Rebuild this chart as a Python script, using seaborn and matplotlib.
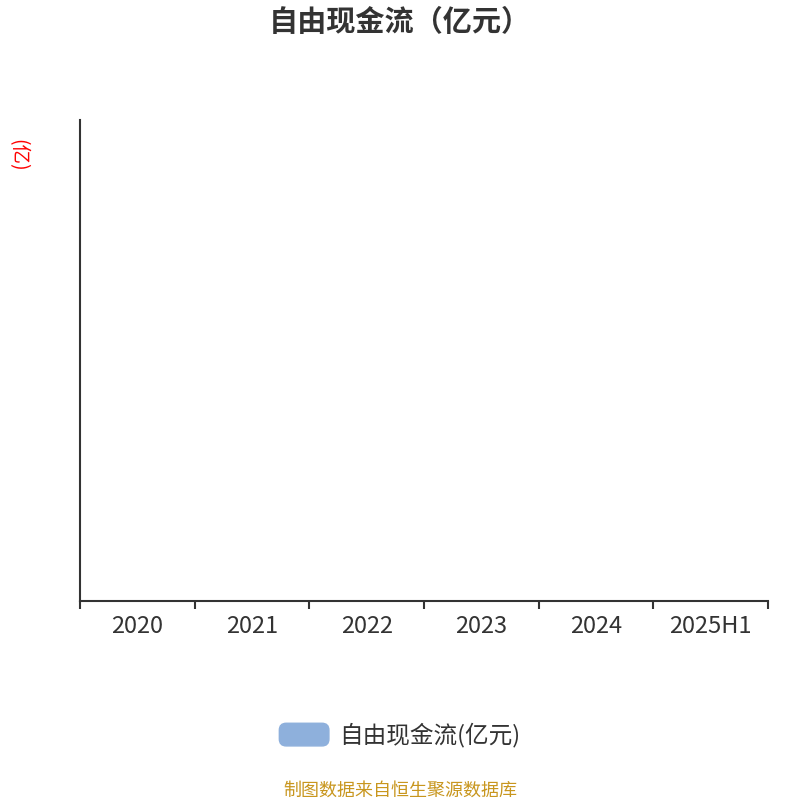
import numpy as np
import pandas as pd
import matplotlib
matplotlib.use("Agg")
import matplotlib.pyplot as plt
import seaborn as sns
from matplotlib.patches import Patch, FancyBboxPatch
from matplotlib.legend_handler import HandlerPatch

# data: the source chart shows no values for any period
periods = ["2020", "2021", "2022", "2023", "2024", "2025H1"]
fcf_values = [np.nan, np.nan, np.nan, np.nan, np.nan, np.nan]
series_name = "自由现金流(亿元)"

df = pd.DataFrame({"period": periods, "value": fcf_values})

sns.set_theme(style="white")
plt.rcParams["font.family"] = ["Noto Sans CJK SC", "DejaVu Sans"]

bar_color = "#8eb0dc"
text_color = "#333333"

fig = plt.figure(figsize=(8, 8), dpi=100)
ax = fig.add_axes([0.1, 0.24875, 0.86, 0.60125])

sns.barplot(data=df, x="period", y="value", order=periods,
            color=bar_color, ax=ax, errorbar=None)

ax.set_xlim(-0.5, len(periods) - 0.5)
ax.set_ylim(0, 1)

# labels centred, tick marks on category boundaries
ax.set_xticks(range(len(periods)))
ax.set_xticklabels(periods, fontsize=17, color=text_color)
ax.set_xticks(np.arange(-0.5, len(periods)), minor=True)
ax.tick_params(axis="x", which="major", length=0, pad=10)
ax.tick_params(axis="x", which="minor", length=6, width=1.5,
               color=text_color, direction="out", bottom=True)
ax.set_yticks([])
ax.set_xlabel("")
ax.set_ylabel("")

for side in ["top", "right"]:
    ax.spines[side].set_visible(False)
for side in ["left", "bottom"]:
    ax.spines[side].set_color(text_color)
    ax.spines[side].set_linewidth(1.5)

fig.text(0.5, 0.972, "自由现金流（亿元）", ha="center", va="center",
         fontsize=21, fontweight="bold", color=text_color)
fig.text(0.022, 0.806, "(亿)", ha="center", va="center",
         rotation=-90, fontsize=14, color="red")


def rounded_handle(legend, orig_handle, xdescent, ydescent, width, height, fontsize):
    return FancyBboxPatch((-xdescent, -ydescent), width, height,
                          boxstyle="round,pad=0,rounding_size=5")


handle = Patch(facecolor=bar_color, edgecolor=bar_color)
fig.legend([handle], [series_name], loc="center", bbox_to_anchor=(0.5, 0.081),
           frameon=False, fontsize=17, handlelength=2.1, handleheight=1.1,
           handletextpad=0.45, labelcolor=text_color,
           handler_map={Patch: HandlerPatch(patch_func=rounded_handle)})

fig.text(0.5, 0.012, "制图数据来自恒生聚源数据库", ha="center", va="center",
         fontsize=13, color="#c8961e")

fig.savefig("out.png", dpi=100)
